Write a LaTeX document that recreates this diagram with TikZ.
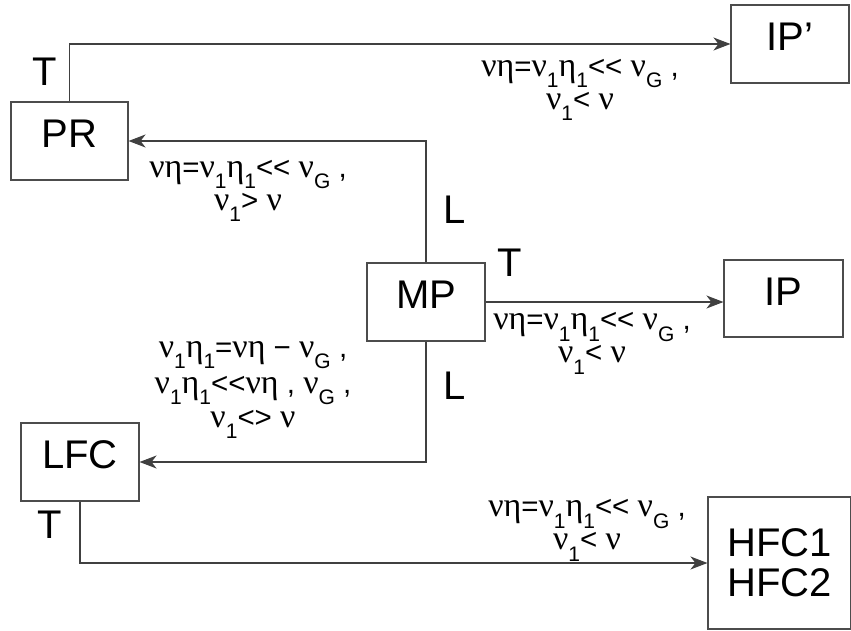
\documentclass[tikz,border=0pt]{standalone}
\usepackage{fontspec}
\setmainfont{Liberation Sans}
\newfontfamily\grk[Scale=1.15]{Liberation Serif}
\usetikzlibrary{arrows.meta}
\newcommand{\gnu}{{\grk ν}}
\newcommand{\et}{{\grk η}}
\newcommand{\sbs}[1]{\raisebox{-0.4em}{\fontsize{21pt}{21pt}\selectfont #1}}
\newcommand{\llt}{<{}<}
\tikzset{
  box/.style={draw=black!70, line width=1.1pt, rectangle, inner sep=0pt,
    font=\fontsize{40pt}{42pt}\selectfont, text height=29pt, text depth=16pt},
  lbl/.style={font=\fontsize{29.5pt}{33pt}\selectfont, align=center, inner sep=0pt},
  big/.style={font=\fontsize{40pt}{42pt}\selectfont, inner sep=0pt},
  conn/.style={draw=black!75, line width=1.1pt, -{Stealth[length=17pt,width=13pt,inset=5pt]}}
}
\begin{document}
\begin{tikzpicture}[x=1pt,y=-1pt]
\useasboundingbox (0,0) rectangle (851,631);
% boxes
\node[box, minimum width=117pt, minimum height=78pt] (PR) at (69.5,141) {PR};
\node[box, minimum width=118pt, minimum height=78pt] (IPp) at (790,44) {IP’};
\node[box, minimum width=118pt, minimum height=78pt] (MP) at (426,302) {MP};
\node[box, minimum width=119pt, minimum height=77pt] (IP) at (783.5,298.5) {IP};
\node[box, minimum width=118pt, minimum height=78pt] (LFC) at (80,462) {LFC};
\node[draw=black!70, line width=1.1pt, rectangle, inner sep=0pt, minimum width=143pt, minimum height=132pt,
  font=\fontsize{40pt}{40pt}\selectfont, align=center] (HFC) at (779.5,563) {HFC1\\HFC2};
% connectors
\draw[conn] (PR.north) |- (IPp.west);
\draw[conn] (MP.north) |- (PR.east);
\draw[conn] (MP.east) -- (MP.east -| IP.west);
\draw[conn] (MP.south) |- (LFC.east);
\draw[conn] (LFC.south) |- (HFC.west);
% edge letters
\node[big] (t1) at (45,72) {T};
\node[big] (l1) at (455,210) {L};
\node[big] (t2) at (510,263) {T};
\node[big] (l2) at (455,386) {L};
\node[big] (t3) at (50,525) {T};
% labels
\node[lbl] (a1) at (580,90) {\gnu\et=\gnu\sbs{1}\et\sbs{1}\llt{} \gnu\sbs{G} ,\\ \gnu\sbs{1}< \gnu};
\node[lbl] (a2) at (248,191) {\gnu\et=\gnu\sbs{1}\et\sbs{1}\llt{} \gnu\sbs{G} ,\\ \gnu\sbs{1}> \gnu};
\node[lbl] (a3) at (592,343) {\gnu\et=\gnu\sbs{1}\et\sbs{1}\llt{} \gnu\sbs{G} ,\\ \gnu\sbs{1}< \gnu};
\node[lbl] (a4) at (253,390) {\gnu\sbs{1}\et\sbs{1}=\gnu\et{} − \gnu\sbs{G} ,\\[3pt] \gnu\sbs{1}\et\sbs{1}\llt\gnu\et{} , \gnu\sbs{G} ,\\[1pt] \gnu\sbs{1}<> \gnu};
\node[lbl] (a5) at (587,530) {\gnu\et=\gnu\sbs{1}\et\sbs{1}\llt{} \gnu\sbs{G} ,\\ \gnu\sbs{1}< \gnu};
\end{tikzpicture}
\end{document}
